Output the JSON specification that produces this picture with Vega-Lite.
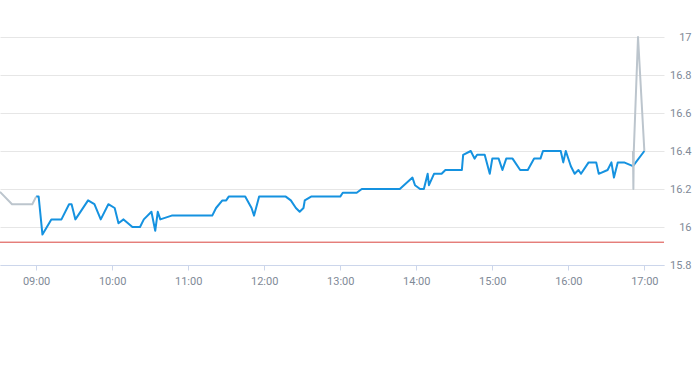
{
  "$schema": "https://vega.github.io/schema/vega-lite/v6.json",
  "autosize": "none",
  "width": 664,
  "height": 228,
  "padding": {"left": 0, "top": 37, "right": 29, "bottom": 100},
  "background": "white",
  "config": {"view": {"stroke": null}},
  "datasets": {
    "prices": [
      {"t": "2024-01-02T08:31:30Z", "p": 16.185, "s": "pre"},
      {"t": "2024-01-02T08:41:00Z", "p": 16.12, "s": "pre"},
      {"t": "2024-01-02T08:57:00Z", "p": 16.12, "s": "pre"},
      {"t": "2024-01-02T09:00:00Z", "p": 16.16, "s": "pre"},
      {"t": "2024-01-02T09:00:00Z", "p": 16.16, "s": "reg"},
      {"t": "2024-01-02T09:02:00Z", "p": 16.16, "s": "reg"},
      {"t": "2024-01-02T09:05:00Z", "p": 15.96, "s": "reg"},
      {"t": "2024-01-02T09:12:00Z", "p": 16.04, "s": "reg"},
      {"t": "2024-01-02T09:20:00Z", "p": 16.04, "s": "reg"},
      {"t": "2024-01-02T09:26:00Z", "p": 16.12, "s": "reg"},
      {"t": "2024-01-02T09:28:00Z", "p": 16.12, "s": "reg"},
      {"t": "2024-01-02T09:31:00Z", "p": 16.04, "s": "reg"},
      {"t": "2024-01-02T09:33:00Z", "p": 16.06, "s": "reg"},
      {"t": "2024-01-02T09:41:00Z", "p": 16.14, "s": "reg"},
      {"t": "2024-01-02T09:46:00Z", "p": 16.12, "s": "reg"},
      {"t": "2024-01-02T09:51:00Z", "p": 16.04, "s": "reg"},
      {"t": "2024-01-02T09:57:00Z", "p": 16.12, "s": "reg"},
      {"t": "2024-01-02T10:02:00Z", "p": 16.10, "s": "reg"},
      {"t": "2024-01-02T10:05:00Z", "p": 16.02, "s": "reg"},
      {"t": "2024-01-02T10:09:00Z", "p": 16.04, "s": "reg"},
      {"t": "2024-01-02T10:16:00Z", "p": 16.00, "s": "reg"},
      {"t": "2024-01-02T10:22:00Z", "p": 16.00, "s": "reg"},
      {"t": "2024-01-02T10:25:00Z", "p": 16.04, "s": "reg"},
      {"t": "2024-01-02T10:31:00Z", "p": 16.08, "s": "reg"},
      {"t": "2024-01-02T10:34:00Z", "p": 15.98, "s": "reg"},
      {"t": "2024-01-02T10:36:00Z", "p": 16.08, "s": "reg"},
      {"t": "2024-01-02T10:38:00Z", "p": 16.04, "s": "reg"},
      {"t": "2024-01-02T10:47:00Z", "p": 16.06, "s": "reg"},
      {"t": "2024-01-02T11:19:00Z", "p": 16.06, "s": "reg"},
      {"t": "2024-01-02T11:22:00Z", "p": 16.10, "s": "reg"},
      {"t": "2024-01-02T11:27:00Z", "p": 16.14, "s": "reg"},
      {"t": "2024-01-02T11:30:00Z", "p": 16.14, "s": "reg"},
      {"t": "2024-01-02T11:32:00Z", "p": 16.16, "s": "reg"},
      {"t": "2024-01-02T11:45:00Z", "p": 16.16, "s": "reg"},
      {"t": "2024-01-02T11:50:00Z", "p": 16.10, "s": "reg"},
      {"t": "2024-01-02T11:52:00Z", "p": 16.06, "s": "reg"},
      {"t": "2024-01-02T11:56:00Z", "p": 16.16, "s": "reg"},
      {"t": "2024-01-02T12:17:00Z", "p": 16.16, "s": "reg"},
      {"t": "2024-01-02T12:21:00Z", "p": 16.14, "s": "reg"},
      {"t": "2024-01-02T12:25:00Z", "p": 16.10, "s": "reg"},
      {"t": "2024-01-02T12:28:00Z", "p": 16.08, "s": "reg"},
      {"t": "2024-01-02T12:31:00Z", "p": 16.10, "s": "reg"},
      {"t": "2024-01-02T12:32:00Z", "p": 16.14, "s": "reg"},
      {"t": "2024-01-02T12:37:00Z", "p": 16.16, "s": "reg"},
      {"t": "2024-01-02T13:00:00Z", "p": 16.16, "s": "reg"},
      {"t": "2024-01-02T13:02:00Z", "p": 16.18, "s": "reg"},
      {"t": "2024-01-02T13:13:00Z", "p": 16.18, "s": "reg"},
      {"t": "2024-01-02T13:17:00Z", "p": 16.20, "s": "reg"},
      {"t": "2024-01-02T13:47:00Z", "p": 16.20, "s": "reg"},
      {"t": "2024-01-02T13:57:00Z", "p": 16.26, "s": "reg"},
      {"t": "2024-01-02T13:59:00Z", "p": 16.22, "s": "reg"},
      {"t": "2024-01-02T14:03:00Z", "p": 16.20, "s": "reg"},
      {"t": "2024-01-02T14:06:00Z", "p": 16.20, "s": "reg"},
      {"t": "2024-01-02T14:09:00Z", "p": 16.28, "s": "reg"},
      {"t": "2024-01-02T14:10:00Z", "p": 16.22, "s": "reg"},
      {"t": "2024-01-02T14:14:00Z", "p": 16.28, "s": "reg"},
      {"t": "2024-01-02T14:20:00Z", "p": 16.28, "s": "reg"},
      {"t": "2024-01-02T14:23:00Z", "p": 16.30, "s": "reg"},
      {"t": "2024-01-02T14:36:00Z", "p": 16.30, "s": "reg"},
      {"t": "2024-01-02T14:37:00Z", "p": 16.38, "s": "reg"},
      {"t": "2024-01-02T14:43:00Z", "p": 16.40, "s": "reg"},
      {"t": "2024-01-02T14:46:00Z", "p": 16.36, "s": "reg"},
      {"t": "2024-01-02T14:48:00Z", "p": 16.38, "s": "reg"},
      {"t": "2024-01-02T14:54:00Z", "p": 16.38, "s": "reg"},
      {"t": "2024-01-02T14:58:00Z", "p": 16.28, "s": "reg"},
      {"t": "2024-01-02T15:00:00Z", "p": 16.36, "s": "reg"},
      {"t": "2024-01-02T15:05:00Z", "p": 16.36, "s": "reg"},
      {"t": "2024-01-02T15:08:00Z", "p": 16.30, "s": "reg"},
      {"t": "2024-01-02T15:11:00Z", "p": 16.36, "s": "reg"},
      {"t": "2024-01-02T15:16:00Z", "p": 16.36, "s": "reg"},
      {"t": "2024-01-02T15:22:00Z", "p": 16.30, "s": "reg"},
      {"t": "2024-01-02T15:28:00Z", "p": 16.30, "s": "reg"},
      {"t": "2024-01-02T15:33:00Z", "p": 16.36, "s": "reg"},
      {"t": "2024-01-02T15:38:00Z", "p": 16.36, "s": "reg"},
      {"t": "2024-01-02T15:40:00Z", "p": 16.40, "s": "reg"},
      {"t": "2024-01-02T15:54:00Z", "p": 16.40, "s": "reg"},
      {"t": "2024-01-02T15:56:00Z", "p": 16.34, "s": "reg"},
      {"t": "2024-01-02T15:58:00Z", "p": 16.40, "s": "reg"},
      {"t": "2024-01-02T16:02:00Z", "p": 16.32, "s": "reg"},
      {"t": "2024-01-02T16:05:00Z", "p": 16.28, "s": "reg"},
      {"t": "2024-01-02T16:08:00Z", "p": 16.30, "s": "reg"},
      {"t": "2024-01-02T16:10:00Z", "p": 16.28, "s": "reg"},
      {"t": "2024-01-02T16:16:00Z", "p": 16.34, "s": "reg"},
      {"t": "2024-01-02T16:22:00Z", "p": 16.34, "s": "reg"},
      {"t": "2024-01-02T16:24:00Z", "p": 16.28, "s": "reg"},
      {"t": "2024-01-02T16:31:00Z", "p": 16.30, "s": "reg"},
      {"t": "2024-01-02T16:34:00Z", "p": 16.34, "s": "reg"},
      {"t": "2024-01-02T16:36:00Z", "p": 16.26, "s": "reg"},
      {"t": "2024-01-02T16:39:00Z", "p": 16.34, "s": "reg"},
      {"t": "2024-01-02T16:44:00Z", "p": 16.34, "s": "reg"},
      {"t": "2024-01-02T16:51:00Z", "p": 16.32, "s": "reg"},
      {"t": "2024-01-02T17:00:00Z", "p": 16.40, "s": "reg"},
      {"t": "2024-01-02T16:51:00Z", "p": 16.40, "s": "post"},
      {"t": "2024-01-02T16:51:20Z", "p": 16.20, "s": "post"},
      {"t": "2024-01-02T16:51:40Z", "p": 16.40, "s": "post"},
      {"t": "2024-01-02T16:55:00Z", "p": 17.00, "s": "post"},
      {"t": "2024-01-02T17:00:00Z", "p": 16.40, "s": "post"}
    ],
    "ref": [{"p": 15.92}]
  },
  "layer": [
    {
      "data": {"name": "ref"},
      "mark": {"type": "rule", "color": "#d9453f", "strokeWidth": 1},
      "encoding": {"y": {"field": "p", "type": "quantitative"}}
    },
    {
      "data": {"name": "prices"},
      "transform": [{"filter": "datum.s === 'reg'"}],
      "mark": {"type": "line", "color": "#1592e0", "strokeWidth": 2, "strokeJoin": "round"},
      "encoding": {
        "x": {
          "field": "t", "type": "temporal",
          "scale": {"type": "utc", "domain": ["2024-01-02T08:31:30Z", "2024-01-02T17:15:30Z"]},
          "axis": {
            "title": null,
            "format": "%H:%M",
            "values": ["2024-01-02T09:00:00Z", "2024-01-02T10:00:00Z", "2024-01-02T11:00:00Z", "2024-01-02T12:00:00Z", "2024-01-02T13:00:00Z", "2024-01-02T14:00:00Z", "2024-01-02T15:00:00Z", "2024-01-02T16:00:00Z", "2024-01-02T17:00:00Z"],
            "tickCount": 20,
            "grid": false,
            "labelOverlap": false,
            "domainColor": "#ccd6eb",
            "tickColor": "#ccd6eb",
            "tickSize": 5,
            "labelColor": "#7f8a97",
            "labelFont": "Liberation Sans Narrow, Roboto, sans-serif",
            "labelFontSize": 11,
            "labelPadding": 5
          }
        },
        "y": {
          "field": "p", "type": "quantitative",
          "scale": {"domain": [15.8, 17], "zero": false, "nice": false},
          "axis": {
            "title": null,
            "orient": "right",
            "values": [15.8, 16, 16.2, 16.4, 16.6, 16.8, 17],
            "tickCount": 20,
            "format": "~g",
            "labelOverlap": false,
            "labelFlush": false,
            "domain": false,
            "ticks": false,
            "gridColor": "#e6e6e6",
            "labelColor": "#7f8a97",
            "labelFont": "Liberation Sans Narrow, Roboto, sans-serif",
            "labelFontSize": 11,
            "labelAlign": "right",
            "labelPadding": 27
          }
        }
      }
    },
    {
      "data": {"name": "prices"},
      "transform": [{"filter": "datum.s !== 'reg'"}],
      "mark": {"type": "line", "color": "#bcc5cd", "strokeWidth": 2, "strokeJoin": "round"},
      "encoding": {
        "x": {"field": "t", "type": "temporal"},
        "y": {"field": "p", "type": "quantitative"},
        "detail": {"field": "s"}
      }
    }
  ]
}
